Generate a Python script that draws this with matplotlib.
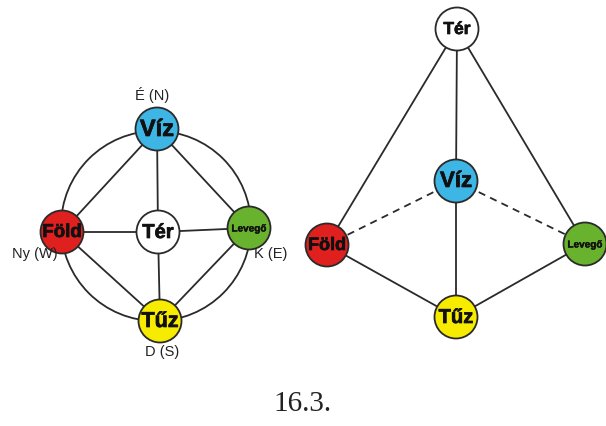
import matplotlib.pyplot as plt
import matplotlib.patheffects as pe
from matplotlib.patches import Circle

# node labels and colours (shared by both diagrams)
names = ['Víz', 'Föld', 'Tér', 'Levegő', 'Tűz']
colors = ['#3db6e6', '#e0201f', '#ffffff', '#69b22e', '#f7eb00']
left_sizes = [17, 13.5, 14.5, 7.2, 15.5]
right_sizes = [16, 13, 12.5, 7.2, 14.5]

# left diagram: node positions (pixels)
left_x = [157, 62, 158, 249, 160]
left_y = [129, 232, 232, 228, 321]
left_edges = [(0, 1), (0, 3), (0, 2), (1, 2), (2, 3), (2, 4), (1, 4), (3, 4)]
ring_center = (156, 226)
ring_r = 95
compass = ['É (N)', 'Ny (W)', 'K (E)', 'D (S)']
compass_x = [152, 35, 271, 162]
compass_y = [95, 254, 254, 352]

# right diagram: node positions (pixels)
right_x = [456, 327, 457, 585, 456]
right_y = [181, 245, 29, 244, 317]
right_solid = [(2, 1), (2, 0), (2, 3), (0, 4), (1, 4), (3, 4)]
right_dashed = [(0, 1), (0, 3)]

node_r = 21.5
lw = 1.3
ink = '#2a2a2a'

fig = plt.figure(figsize=(6.06, 4.26), dpi=100)
ax = fig.add_axes([0, 0, 1, 1])
ax.set_xlim(0, 606)
ax.set_ylim(426, 0)
ax.set_aspect('equal')
ax.axis('off')

# left: outer ring + edges
ax.add_patch(Circle(ring_center, ring_r, fill=False, ec=ink, lw=lw, zorder=1))
for a, b in left_edges:
    ax.plot([left_x[a], left_x[b]], [left_y[a], left_y[b]], color=ink, lw=lw, zorder=1)

# right: edges
for a, b in right_solid:
    ax.plot([right_x[a], right_x[b]], [right_y[a], right_y[b]], color=ink, lw=lw, zorder=1)
for a, b in right_dashed:
    ax.plot([right_x[a], right_x[b]], [right_y[a], right_y[b]], color=ink, lw=lw,
            ls=(0, (4, 3)), zorder=1)

# nodes
for xs, ys, sizes in [(left_x, left_y, left_sizes), (right_x, right_y, right_sizes)]:
    for i, name in enumerate(names):
        ax.add_patch(Circle((xs[i], ys[i]), node_r, fc=colors[i], ec=ink, lw=lw, zorder=2))
        sw = 0.5 if sizes[i] > 10 else 0.25
        ax.text(xs[i], ys[i] + 0.5, name, ha='center', va='center', fontsize=sizes[i],
                fontweight='bold', family='Liberation Sans', color='#111111', zorder=3,
                path_effects=[pe.withStroke(linewidth=sw, foreground='#111111')])

for t, x, y in zip(compass, compass_x, compass_y):
    ax.text(x, y, t, ha='center', va='center', fontsize=10.5, family='Liberation Sans',
            color='#222222')

ax.text(303, 404, '16.3.', ha='center', va='center', fontsize=21, family='Liberation Serif',
        color='#222222')

plt.savefig('out.png', dpi=100)
